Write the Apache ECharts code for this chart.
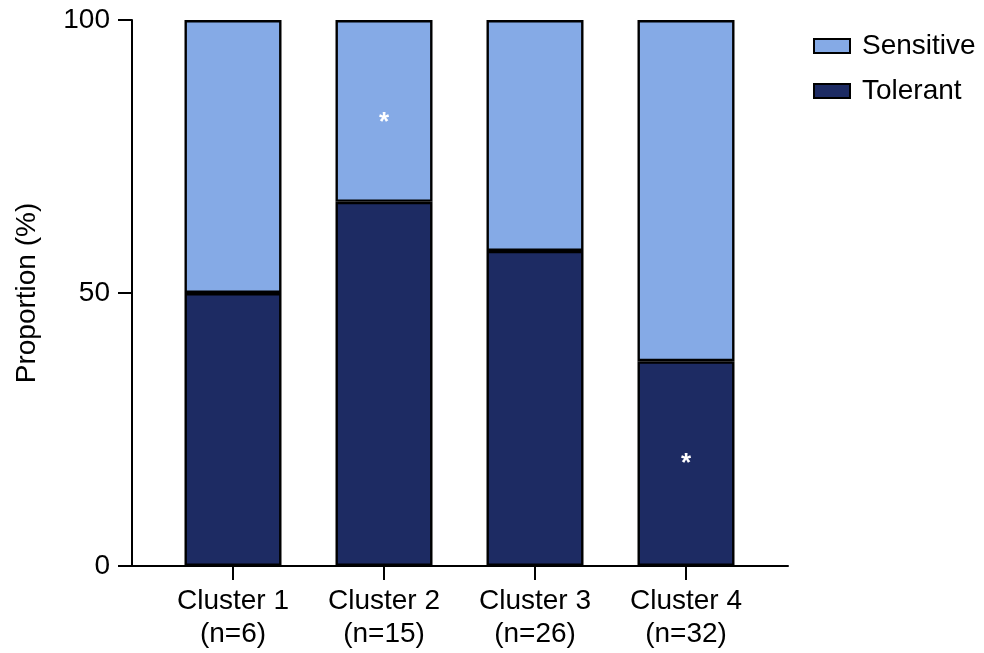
<!DOCTYPE html>
<html>
<head>
<meta charset="utf-8">
<script src="https://cdn.jsdelivr.net/npm/echarts@6/dist/echarts.min.js"></script>
<style>
  html, body { margin: 0; padding: 0; background: #fff; }
  #chart { width: 984px; height: 653px; }
</style>
</head>
<body>
<div id="chart"></div>
<script>
// Cluster labels and group sizes
const clusters = ['Cluster 1', 'Cluster 2', 'Cluster 3', 'Cluster 4'];
const groupSizes = ['n=6', 'n=15', 'n=26', 'n=32'];

// Proportions (%) per cluster
const tolerant = [50, 66.7, 57.7, 37.5];
const sensitive = [50, 33.3, 42.3, 62.5];

// Significance marks drawn inside the segments
const tolerantMarks = ['', '', '', '*'];
const sensitiveMarks = ['', '*', '', ''];

const yTicks = [0, 50, 100];

const FONT = 'Liberation Sans, Arial, Helvetica, sans-serif';
const COLOR_TOL = '#1D2B63';
const COLOR_SEN = '#85AAE6';
const FS = 28;

const chart = echarts.init(document.getElementById('chart'), null, { renderer: 'canvas' });

function barSeries(name, values, marks, color, markOffset) {
  return {
    name: name,
    type: 'bar',
    stack: 'total',
    xAxisIndex: 0,
    yAxisIndex: 0,
    barWidth: 97,
    data: values,
    itemStyle: { color: color, borderColor: '#000', borderWidth: 2.4 },
    label: {
      show: true,
      position: 'inside',
      offset: markOffset,
      color: '#fff',
      fontSize: 26,
      fontWeight: 'bold',
      fontFamily: FONT,
      formatter: p => marks[p.dataIndex]
    },
    emphasis: { disabled: true }
  };
}

chart.setOption({
  animation: false,
  textStyle: { fontFamily: FONT },
  grid: [
    // bars and category labels
    { left: 157.5, right: 222.5, top: 20, bottom: 87 },
    // frame axes (full width x line, y axis with ticks)
    { left: 132, right: 196, top: 20, bottom: 87 }
  ],
  legend: {
    data: ['Sensitive', 'Tolerant'],
    orient: 'vertical',
    left: 813,
    top: 32,
    padding: 0,
    icon: 'rect',
    itemWidth: 36,
    itemHeight: 14,
    itemGap: 17,
    textStyle: { fontSize: FS, color: '#000', fontFamily: FONT, lineHeight: 28, padding: [0, 0, 0, 7] }
  },
  xAxis: [
    {
      gridIndex: 0,
      type: 'category',
      data: clusters,
      axisLine: { show: false },
      axisTick: { show: true, alignWithLabel: true, length: 14, lineStyle: { color: '#000', width: 2 } },
      axisLabel: {
        margin: 19,
        fontSize: FS,
        lineHeight: 33,
        color: '#000',
        fontFamily: FONT,
        formatter: (v, i) => v + '\n(' + groupSizes[i] + ')'
      }
    },
    {
      gridIndex: 1,
      type: 'value',
      min: 0,
      max: 1,
      splitLine: { show: false },
      axisLine: { show: true, onZero: false, lineStyle: { color: '#000', width: 2 } },
      axisTick: { show: false },
      axisLabel: { show: false }
    }
  ],
  yAxis: [
    {
      gridIndex: 0,
      type: 'value',
      min: 0,
      max: 100,
      show: false
    },
    {
      gridIndex: 1,
      type: 'value',
      min: 0,
      max: 100,
      interval: 50,
      name: 'Proportion (%)',
      nameLocation: 'middle',
      nameGap: 91,
      nameTextStyle: { fontSize: FS, color: '#000', fontFamily: FONT },
      splitLine: { show: false },
      axisLine: { show: true, lineStyle: { color: '#000', width: 2 } },
      axisTick: { show: true, length: 14, lineStyle: { color: '#000', width: 2 }, customValues: yTicks },
      axisLabel: { fontSize: FS, color: '#000', margin: 22, fontFamily: FONT, customValues: yTicks }
    }
  ],
  series: [
    barSeries('Tolerant', tolerant, tolerantMarks, COLOR_TOL, [0, 0]),
    barSeries('Sensitive', sensitive, sensitiveMarks, COLOR_SEN, [0, 12])
  ]
});
</script>
</body>
</html>
